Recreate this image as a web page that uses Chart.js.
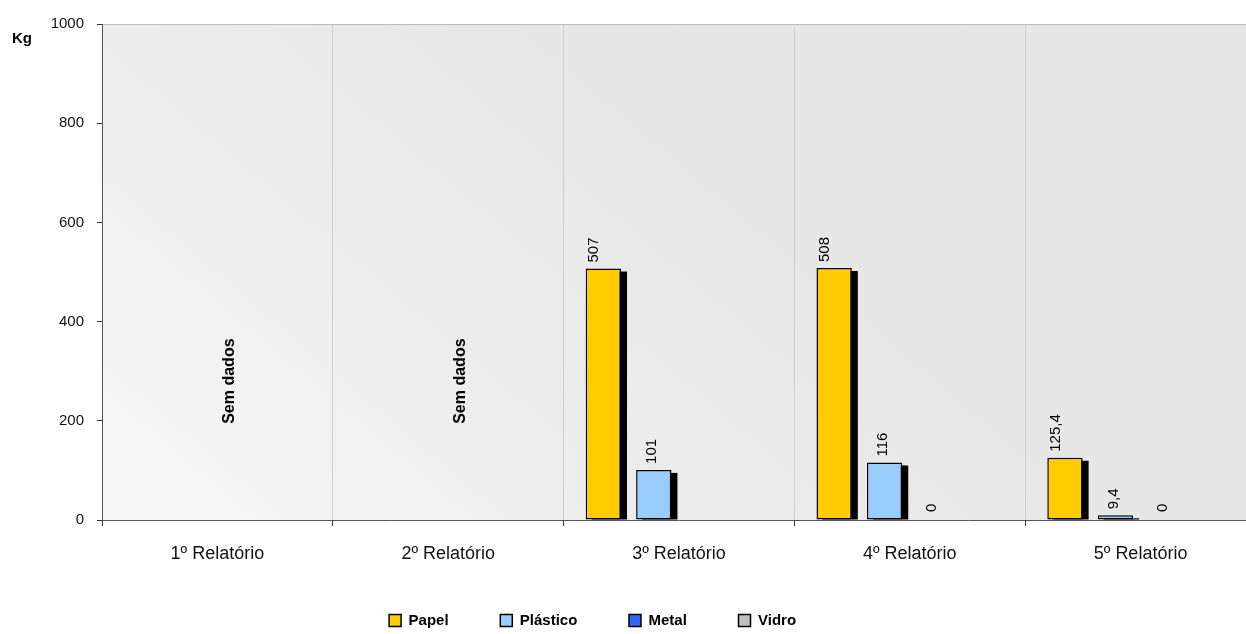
<!DOCTYPE html>
<html>
<head>
<meta charset="utf-8">
<script src="https://cdn.jsdelivr.net/npm/chart.js@4/dist/chart.umd.min.js"></script>
<style>
  html, body { margin: 0; padding: 0; background: #fff; overflow: hidden; }
  #clip { width: 1246px; height: 634px; overflow: hidden; }
  #wrap { width: 1256px; height: 634px; position: relative; }
</style>
</head>
<body>
<div id="clip"><div id="wrap"><canvas id="residuosChart"></canvas></div></div>
<script>
const categories = ['1º Relatório', '2º Relatório', '3º Relatório', '4º Relatório', '5º Relatório'];
const papel = [null, null, 507, 508, 125.4];
const plastico = [null, null, 101, 116, 9.4];
const metal = [null, null, null, 0, 0];
const vidro = [null, null, null, null, null];
const noDataNotes = ['Sem dados', 'Sem dados', '', '', ''];
const yTicks = [0, 200, 400, 600, 800, 1000];

const FONT = "'Liberation Sans', Arial, sans-serif";

// plot background: soft grey gradient
const bgPlugin = {
  id: 'plotBg',
  beforeDraw(chart) {
    const { ctx, chartArea: a } = chart;
    const g = ctx.createLinearGradient(a.left, a.bottom, a.left + 420, a.top);
    g.addColorStop(0, '#f9f9f9');
    g.addColorStop(0.5, '#ededed');
    g.addColorStop(1, '#e7e7e7');
    ctx.save();
    ctx.fillStyle = g;
    ctx.fillRect(a.left, a.top, a.right - a.left, a.bottom - a.top);
    ctx.restore();
  }
};

// black drop shadow behind each bar
const shadowPlugin = {
  id: 'barShadow',
  beforeDatasetsDraw(chart) {
    const { ctx, chartArea: a } = chart;
    ctx.save();
    ctx.beginPath();
    ctx.rect(a.left, a.top, a.right - a.left, a.bottom - a.top);
    ctx.clip();
    ctx.fillStyle = '#000';
    chart.data.datasets.forEach((ds, i) => {
      chart.getDatasetMeta(i).data.forEach((bar, j) => {
        const v = ds.data[j];
        if (v == null || v === 0) return;
        const p = bar.getProps(['x', 'y', 'base', 'width'], true);
        ctx.fillRect(p.x - p.width / 2 + 6, p.y + 3, p.width, p.base - p.y - 3);
      });
    });
    ctx.restore();
  }
};

// rotated value labels + notes + "Kg"
const labelPlugin = {
  id: 'valueLabels',
  afterDatasetsDraw(chart) {
    const { ctx, chartArea: a, scales } = chart;
    const shift = [-9, -2, -3, 0];
    ctx.save();
    ctx.fillStyle = '#000';
    ctx.font = '15px ' + FONT;
    ctx.textAlign = 'left';
    ctx.textBaseline = 'middle';
    chart.data.datasets.forEach((ds, i) => {
      chart.getDatasetMeta(i).data.forEach((bar, j) => {
        const v = ds.data[j];
        if (v == null) return;
        const p = bar.getProps(['x', 'y'], true);
        ctx.save();
        ctx.translate(p.x + shift[i], p.y - (v === 0 ? 8 : 6));
        ctx.rotate(-Math.PI / 2);
        ctx.fillText(String(v).replace('.', ','), 0, 0);
        ctx.restore();
      });
    });

    ctx.font = 'bold 16px ' + FONT;
    ctx.textAlign = 'center';
    noDataNotes.forEach((t, j) => {
      if (!t) return;
      ctx.save();
      ctx.translate(scales.x.getPixelForValue(j) + 12, scales.y.getPixelForValue(280));
      ctx.rotate(-Math.PI / 2);
      ctx.fillText(t, 0, 0);
      ctx.restore();
    });

    ctx.font = 'bold 15px ' + FONT;
    ctx.textAlign = 'left';
    ctx.textBaseline = 'alphabetic';
    ctx.fillText('Kg', 12, a.top + 19);
    ctx.restore();
  }
};

const pad = '          ';

new Chart(document.getElementById('residuosChart'), {
  type: 'bar',
  data: {
    labels: categories,
    datasets: [
      { label: 'Papel', data: papel, backgroundColor: '#FFCC00' },
      { label: 'Plástico', data: plastico, backgroundColor: '#99CCFF' },
      { label: 'Metal', data: metal, backgroundColor: '#3366FF' },
      { label: 'Vidro', data: vidro, backgroundColor: '#C0C0C0' }
    ].map(d => Object.assign(d, {
      borderColor: '#000',
      borderWidth: 1.5,
      borderSkipped: false,
      categoryPercentage: 0.874,
      barPercentage: 0.7
    }))
  },
  options: {
    responsive: true,
    maintainAspectRatio: false,
    animation: false,
    layout: { padding: { top: 24, left: 0, right: 0, bottom: -4 } },
    plugins: {
      tooltip: { enabled: false },
      legend: {
        position: 'bottom',
        labels: {
          boxWidth: 12,
          boxHeight: 12,
          padding: 10,
          color: '#000',
          font: { family: FONT, size: 15, weight: 'bold' },
          generateLabels(chart) {
            const items = Chart.defaults.plugins.legend.labels.generateLabels(chart);
            return items.map((l, k) => Object.assign(l, {
              text: l.text + pad + (k === items.length - 1 ? '       ' : '')
            }));
          }
        }
      }
    },
    scales: {
      x: {
        afterFit(s) { s.height = 83; },
        grid: {
          offset: true,
          color: '#cfcfcf',
          lineWidth: 1,
          tickColor: '#333',
          tickLength: 6
        },
        border: { color: '#555', width: 1 },
        ticks: {
          color: '#111',
          padding: 17,
          font: { family: FONT, size: 18 }
        }
      },
      y: {
        min: 0,
        max: 1000,
        afterFit(s) { s.width = 102; },
        afterBuildTicks(s) { s.ticks = yTicks.map(v => ({ value: v })); },
        grid: {
          color: c => (c.tick && c.tick.value === 1000 ? '#bdbdbd' : 'rgba(0,0,0,0)'),
          tickColor: '#333',
          tickLength: 5
        },
        border: { color: '#555', width: 1 },
        ticks: {
          color: '#111',
          padding: 13,
          font: { family: FONT, size: 15 },
          callback: v => String(v)
        }
      }
    }
  },
  plugins: [bgPlugin, shadowPlugin, labelPlugin]
});
</script>
</body>
</html>
